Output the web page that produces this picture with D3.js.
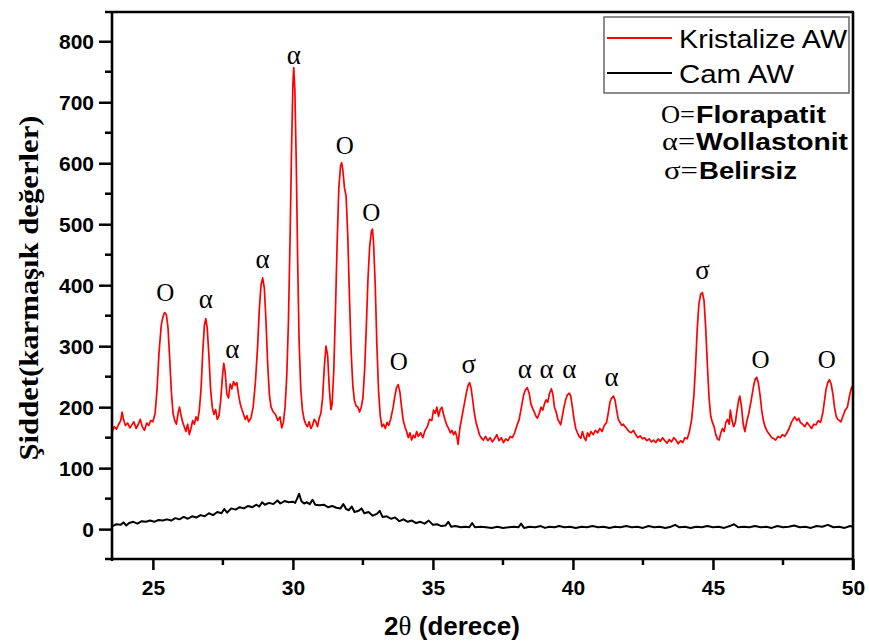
<!DOCTYPE html>
<html>
<head>
<meta charset="utf-8">
<script src="https://d3js.org/d3.v7.min.js"></script>
<style>
  body { margin: 0; background: #fff; }
  .tick-label { font-family: "Liberation Sans", Arial, sans-serif; font-weight: bold; font-size: 21px; }
</style>
</head>
<body>
<div id="chart"></div>
<script>
// Data

// Kristalize AW : [2theta, intensity]
var kristalizeData = [
  [23.55,160],[23.62,168],[23.70,164],[23.78,172],[23.85,178],[23.90,192],[23.95,180],[24.02,170],[24.10,174],[24.18,166],
  [24.25,171],[24.32,176],[24.40,165],[24.48,172],[24.55,180],[24.62,168],[24.70,162],[24.78,174],[24.85,170],[24.92,178],
  [25.00,176],[25.08,190],[25.15,230],[25.22,290],[25.30,335],[25.36,348],[25.42,355],[25.48,352],[25.54,330],[25.60,280],
  [25.66,225],[25.72,190],[25.78,178],[25.84,172],[25.90,190],[25.95,200],[26.00,188],[26.06,176],[26.12,168],[26.18,160],
  [26.24,172],[26.30,155],[26.36,165],[26.42,178],[26.48,172],[26.54,184],[26.60,178],[26.66,196],[26.72,230],[26.78,290],
  [26.84,335],[26.89,345],[26.94,330],[27.00,285],[27.06,230],[27.12,200],[27.18,188],[27.24,196],[27.30,180],[27.36,186],
  [27.42,210],[27.48,248],[27.53,272],[27.58,258],[27.64,222],[27.70,215],[27.76,238],[27.82,230],[27.88,242],[27.94,236],
  [28.00,240],[28.06,220],[28.12,205],[28.18,196],[28.24,188],[28.30,180],[28.36,186],[28.42,176],[28.50,182],[28.58,200],
  [28.66,240],[28.74,300],[28.80,360],[28.86,400],[28.92,412],[28.98,395],[29.04,340],[29.10,270],[29.16,220],[29.22,200],
  [29.30,192],[29.38,188],[29.46,178],[29.54,184],[29.60,166],[29.66,175],[29.72,200],[29.78,250],[29.84,340],[29.90,480],
  [29.95,620],[30.00,730],[30.03,757],[30.07,720],[30.12,600],[30.17,440],[30.22,310],[30.28,230],[30.34,195],[30.40,180],
  [30.46,172],[30.52,168],[30.58,176],[30.64,165],[30.70,170],[30.76,180],[30.82,176],[30.88,168],[30.94,182],[31.00,190],
  [31.06,215],[31.12,265],[31.18,300],[31.24,285],[31.30,230],[31.36,196],[31.40,205],[31.46,260],[31.52,360],[31.58,470],
  [31.64,560],[31.70,595],[31.74,601],[31.78,590],[31.84,560],[31.90,546],[31.96,480],[32.02,380],[32.08,290],[32.14,235],
  [32.20,210],[32.26,202],[32.32,200],[32.38,192],[32.44,200],[32.50,215],[32.56,260],[32.62,330],[32.68,410],[32.74,462],
  [32.80,488],[32.84,492],[32.88,470],[32.94,400],[33.00,300],[33.06,225],[33.12,185],[33.18,168],[33.24,172],[33.30,165],
  [33.36,175],[33.42,170],[33.50,182],[33.58,200],[33.64,218],[33.70,232],[33.76,237],[33.82,225],[33.88,200],[33.94,178],
  [34.00,168],[34.06,160],[34.12,150],[34.18,158],[34.24,146],[34.30,154],[34.36,150],[34.42,160],[34.48,152],[34.56,158],
  [34.64,150],[34.72,162],[34.80,168],[34.88,180],[34.96,178],[35.02,195],[35.08,190],[35.14,200],[35.20,185],[35.26,196],
  [35.32,200],[35.38,188],[35.44,178],[35.50,170],[35.56,165],[35.62,158],[35.68,162],[35.74,155],[35.80,160],[35.86,150],
  [35.90,139],[35.96,165],[36.02,180],[36.08,195],[36.14,210],[36.20,225],[36.26,236],[36.31,240],[36.36,232],[36.42,212],
  [36.48,190],[36.54,175],[36.60,165],[36.66,155],[36.72,150],[36.80,146],[36.88,152],[36.96,145],[37.04,150],[37.12,143],
  [37.20,148],[37.28,155],[37.36,145],[37.44,150],[37.52,142],[37.60,148],[37.68,145],[37.76,152],[37.84,150],[37.92,158],
  [38.00,170],[38.08,180],[38.16,200],[38.24,220],[38.30,228],[38.37,232],[38.44,222],[38.50,205],[38.56,198],[38.62,192],
  [38.68,185],[38.73,182],[38.80,190],[38.86,200],[38.92,195],[38.98,205],[39.04,212],[39.10,208],[39.16,222],[39.23,230],
  [39.28,222],[39.34,200],[39.40,192],[39.46,180],[39.52,175],[39.56,171],[39.62,185],[39.68,200],[39.74,212],[39.80,220],
  [39.87,223],[39.92,218],[39.98,200],[40.04,180],[40.10,165],[40.16,158],[40.22,152],[40.28,149],[40.34,160],[40.40,150],
  [40.46,145],[40.52,158],[40.58,152],[40.64,160],[40.72,155],[40.80,162],[40.88,158],[40.96,165],[41.04,160],[41.12,170],
  [41.20,175],[41.26,190],[41.32,208],[41.38,215],[41.45,218],[41.50,212],[41.56,195],[41.62,180],[41.68,175],[41.74,170],
  [41.80,172],[41.86,168],[41.92,165],[42.00,160],[42.08,158],[42.16,162],[42.24,155],[42.32,150],[42.40,153],[42.48,148],
  [42.56,150],[42.64,145],[42.72,148],[42.80,143],[42.88,146],[42.96,142],[43.04,148],[43.12,144],[43.20,150],[43.28,145],
  [43.36,141],[43.44,147],[43.52,143],[43.60,150],[43.68,146],[43.76,140],[43.84,145],[43.92,142],[44.00,150],[44.08,148],
  [44.16,160],[44.24,180],[44.32,220],[44.38,270],[44.44,330],[44.50,370],[44.56,385],[44.62,388],[44.68,375],[44.74,330],
  [44.80,270],[44.86,215],[44.92,185],[44.98,175],[45.04,168],[45.10,155],[45.16,148],[45.22,146],[45.28,158],[45.34,165],
  [45.40,160],[45.46,175],[45.52,180],[45.58,172],[45.62,195],[45.68,178],[45.74,168],[45.80,175],[45.86,195],[45.92,212],
  [45.96,218],[46.02,200],[46.08,172],[46.14,160],[46.20,175],[46.28,190],[46.36,210],[46.44,232],[46.50,245],[46.56,249],
  [46.62,240],[46.68,220],[46.74,195],[46.80,178],[46.86,168],[46.94,160],[47.02,155],[47.10,150],[47.18,148],[47.24,146],
  [47.32,152],[47.40,150],[47.48,155],[47.56,152],[47.64,158],[47.72,165],[47.80,175],[47.86,180],[47.92,184],[48.00,178],
  [48.06,182],[48.12,175],[48.20,172],[48.28,168],[48.36,175],[48.44,170],[48.52,165],[48.60,172],[48.68,171],[48.76,178],
  [48.84,175],[48.92,190],[48.98,210],[49.04,230],[49.10,240],[49.16,245],[49.22,238],[49.28,222],[49.34,200],[49.40,185],
  [49.46,180],[49.52,178],[49.57,176],[49.64,185],[49.72,195],[49.80,200],[49.86,215],[49.92,228],[49.97,234],[50.00,230]
];

// Cam AW : [2theta, intensity]
var camData = [
  [23.55,5],[23.70,8],[23.85,7],[23.95,11],[24.05,6],[24.15,10],[24.30,12],[24.45,9],[24.60,13],[24.75,12],
  [24.90,14],[25.05,12],[25.20,15],[25.35,14],[25.50,16],[25.65,14],[25.80,18],[25.95,16],[26.10,20],[26.25,17],
  [26.40,21],[26.55,19],[26.70,23],[26.85,21],[27.00,26],[27.15,23],[27.30,28],[27.45,26],[27.55,33],[27.65,27],
  [27.80,34],[27.95,32],[28.10,36],[28.25,34],[28.40,38],[28.55,36],[28.70,40],[28.80,37],[28.90,44],[29.00,40],
  [29.15,43],[29.30,41],[29.45,47],[29.55,42],[29.70,46],[29.85,44],[30.00,45],[30.08,43],[30.15,50],[30.22,58],
  [30.30,46],[30.40,42],[30.50,44],[30.60,41],[30.70,48],[30.80,40],[30.95,39],[31.10,40],[31.25,36],[31.40,38],
  [31.55,35],[31.70,34],[31.80,41],[31.90,33],[32.00,31],[32.10,37],[32.20,28],[32.35,30],[32.45,34],[32.55,26],
  [32.70,28],[32.85,22],[33.00,25],[33.10,30],[33.20,20],[33.35,21],[33.50,17],[33.65,19],[33.80,13],[33.95,16],
  [34.10,12],[34.25,14],[34.40,10],[34.55,12],[34.70,9],[34.85,14],[35.00,7],[35.15,8],[35.30,5],[35.45,6],
  [35.55,12],[35.65,4],[35.80,5],[36.00,3],[36.15,4],[36.30,3],[36.40,10],[36.50,3],[36.70,4],[36.90,3],
  [37.10,2],[37.30,4],[37.50,2],[37.70,3],[37.90,4],[38.05,3],[38.15,9],[38.25,2],[38.45,4],[38.65,3],
  [38.85,5],[39.00,2],[39.15,4],[39.35,3],[39.50,5],[39.70,3],[39.90,4],[40.10,2],[40.30,4],[40.50,3],
  [40.70,5],[40.90,3],[41.10,4],[41.30,2],[41.50,4],[41.70,3],[41.90,5],[42.10,3],[42.30,4],[42.50,2],
  [42.70,5],[42.90,3],[43.10,4],[43.30,2],[43.50,4],[43.65,7],[43.80,3],[44.00,4],[44.20,2],[44.40,4],
  [44.60,3],[44.80,5],[45.00,3],[45.20,4],[45.40,2],[45.60,5],[45.75,8],[45.90,3],[46.10,4],[46.30,3],
  [46.50,5],[46.70,3],[46.90,4],[47.10,2],[47.30,5],[47.50,3],[47.70,4],[47.90,6],[48.10,3],[48.30,4],
  [48.50,2],[48.70,5],[48.90,4],[49.10,7],[49.30,3],[49.50,4],[49.70,2],[49.90,5],[50.00,4]
];

// peak markers: [symbol, 2theta, intensity at label centre]
var peakLabels = [
  ["O",25.44,388],["α",26.89,373],["α",27.84,291],["α",28.92,439],["α",30.03,773],
  ["O",31.85,629],["O",32.80,519],["O",33.78,275],["σ",36.28,266],["α",38.28,259],
  ["α",39.06,259],["α",39.87,259],["α",41.38,245],["σ",44.63,421],["O",46.70,278],["O",49.06,278]
];

var xMajorTicks = [25, 30, 35, 40, 45, 50];
var xMinorTicks = [27.5, 32.5, 37.5, 42.5, 47.5];
var yMajorTicks = [0, 100, 200, 300, 400, 500, 600, 700, 800];
var yMinorTicks = [50, 150, 250, 350, 450, 550, 650, 750];

var seriesNames = ["Kristalize AW", "Cam AW"];
var seriesColors = ["#ff0000", "#000000"];

var phaseSymbols = ["O", "α", "σ"];
var phaseNames = ["Florapatit", "Wollastonit", "Belirsiz"];

// Set up chart
var svgWidth = 869;
var svgHeight = 641;

var plot = { left: 112, right: 853, top: 12, bottom: 559 };

var svg = d3.select("#chart")
  .append("svg")
  .attr("width", svgWidth)
  .attr("height", svgHeight);

var xScale = d3.scaleLinear()
  .domain([23.54, 50])
  .range([plot.left, plot.right]);

var yScale = d3.scaleLinear()
  .domain([-49, 848])
  .range([plot.bottom, plot.top]);

// Lines
var line = d3.line()
  .x(d => xScale(d[0]))
  .y(d => yScale(d[1]));

svg.append("path")
  .datum(camData)
  .attr("fill", "none")
  .attr("stroke", seriesColors[1])
  .attr("stroke-width", 2)
  .attr("stroke-linejoin", "round")
  .attr("d", line);

svg.append("path")
  .datum(kristalizeData)
  .attr("fill", "none")
  .attr("stroke", seriesColors[0])
  .attr("stroke-width", 1.7)
  .attr("stroke-linejoin", "round")
  .attr("d", line);

// Axes (bottom and left with outward ticks)
var bottomAxis = d3.axisBottom(xScale)
  .tickValues(xMajorTicks)
  .tickSize(11)
  .tickPadding(6)
  .tickSizeOuter(0);

var leftAxis = d3.axisLeft(yScale)
  .tickValues(yMajorTicks)
  .tickSize(13)
  .tickPadding(5)
  .tickSizeOuter(0);

var xAxisG = svg.append("g")
  .attr("transform", `translate(0, ${plot.bottom})`)
  .call(bottomAxis);

var yAxisG = svg.append("g")
  .attr("transform", `translate(${plot.left}, 0)`)
  .call(leftAxis);

[xAxisG, yAxisG].forEach(function(g) {
  g.select(".domain").remove();
  g.selectAll(".tick line").attr("stroke", "#000").attr("stroke-width", 2.5);
  g.selectAll(".tick text")
    .attr("class", "tick-label")
    .attr("fill", "#000");
});

xAxisG.selectAll(".tick text").attr("dy", "0.92em");
yAxisG.selectAll(".tick text").attr("dy", "0.36em");

// minor ticks
svg.append("g").selectAll("line")
  .data(xMinorTicks)
  .enter()
  .append("line")
  .attr("x1", d => xScale(d))
  .attr("x2", d => xScale(d))
  .attr("y1", plot.bottom)
  .attr("y2", plot.bottom + 6)
  .attr("stroke", "#000")
  .attr("stroke-width", 2.5);

svg.append("g").selectAll("line")
  .data(yMinorTicks)
  .enter()
  .append("line")
  .attr("x1", plot.left - 7)
  .attr("x2", plot.left)
  .attr("y1", d => yScale(d))
  .attr("y2", d => yScale(d))
  .attr("stroke", "#000")
  .attr("stroke-width", 2.5);

// frame
var frame = svg.append("g")
  .attr("stroke", "#000")
  .attr("stroke-width", 2.6);

frame.append("line").attr("x1", plot.left - 7).attr("x2", plot.right + 1).attr("y1", plot.bottom).attr("y2", plot.bottom);
frame.append("line").attr("x1", plot.left - 7).attr("x2", plot.right + 1).attr("y1", plot.top).attr("y2", plot.top);
frame.append("line").attr("x1", plot.left).attr("x2", plot.left).attr("y1", plot.top).attr("y2", plot.bottom + 2);
frame.append("line").attr("x1", plot.right).attr("x2", plot.right).attr("y1", plot.top).attr("y2", plot.bottom + 11);

// Peak labels
svg.append("g")
  .selectAll("text")
  .data(peakLabels)
  .enter()
  .append("text")
  .attr("x", d => xScale(d[1]))
  .attr("y", d => yScale(d[2]))
  .attr("dy", d => d[0] === "O" ? "0.34em" : "0.24em")
  .attr("text-anchor", "middle")
  .style("font-family", "'Liberation Serif', 'Times New Roman', serif")
  .style("font-size", d => d[0] === "O" ? "25px" : "27px")
  .text(d => d[0]);

// Axis titles
svg.append("text")
  .attr("transform", "translate(38, 288) rotate(-90)")
  .attr("text-anchor", "middle")
  .attr("textLength", 345)
  .attr("lengthAdjust", "spacingAndGlyphs")
  .style("font-family", "'Liberation Serif', 'Times New Roman', serif")
  .style("font-weight", "bold")
  .style("font-size", "28px")
  .text("Şiddet(karmaşık değerler)");

var xTitle = svg.append("text")
  .attr("x", 452)
  .attr("y", 635)
  .attr("text-anchor", "middle")
  .style("font-family", "'Liberation Sans', Arial, sans-serif")
  .style("font-weight", "bold")
  .style("font-size", "26px");
xTitle.append("tspan").text("2");
xTitle.append("tspan")
  .style("font-family", "'Liberation Serif', 'Times New Roman', serif")
  .style("font-weight", "normal")
  .style("font-size", "27px")
  .text("θ");
xTitle.append("tspan").text(" (derece)");

// Legend
var legend = svg.append("g");

legend.append("rect")
  .attr("x", 604)
  .attr("y", 17)
  .attr("width", 245)
  .attr("height", 76)
  .attr("fill", "#fff")
  .attr("stroke", "#666")
  .attr("stroke-width", 1.5);

var legendRows = [38, 73];
var legendWidths = [168, 115];

seriesNames.forEach(function(name, i) {
  legend.append("line")
    .attr("x1", 607)
    .attr("x2", 672)
    .attr("y1", legendRows[i])
    .attr("y2", legendRows[i])
    .attr("stroke", seriesColors[i])
    .attr("stroke-width", 1.8);
  legend.append("text")
    .attr("x", 679)
    .attr("y", legendRows[i] + 9.5)
    .attr("textLength", legendWidths[i])
    .attr("lengthAdjust", "spacingAndGlyphs")
    .style("font-family", "'Liberation Sans', Arial, sans-serif")
    .style("font-size", "26px")
    .text(name);
});

// Phase key
var keyRows = [123, 150, 179];
var keyStarts = [661, 662, 664];
var keyTextX = [696, 696, 699];
var keyWidths = [130, 152, 98];

phaseSymbols.forEach(function(sym, i) {
  svg.append("text")
    .attr("x", keyStarts[i])
    .attr("y", keyRows[i])
    .attr("textLength", keyTextX[i] - keyStarts[i] - 1)
    .attr("lengthAdjust", "spacingAndGlyphs")
    .style("font-family", "'Liberation Serif', 'Times New Roman', serif")
    .style("font-size", "26px")
    .text(sym + "=");
  svg.append("text")
    .attr("x", keyTextX[i])
    .attr("y", keyRows[i])
    .attr("textLength", keyWidths[i])
    .attr("lengthAdjust", "spacingAndGlyphs")
    .style("font-family", "'Liberation Sans', Arial, sans-serif")
    .style("font-weight", "bold")
    .style("font-size", "23px")
    .text(phaseNames[i]);
});
</script>
</body>
</html>
